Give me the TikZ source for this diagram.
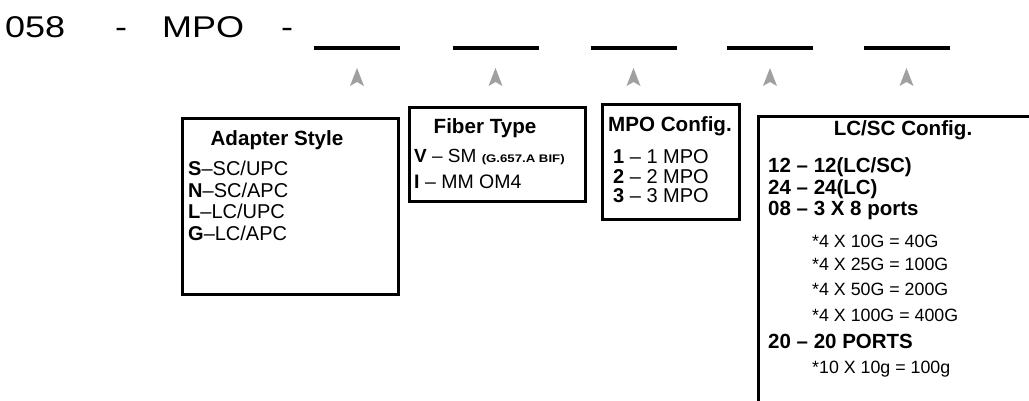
\documentclass[tikz,border=0pt]{standalone}
\usepackage{fontspec}
\setmainfont{Liberation Sans}
\usetikzlibrary{positioning}
\definecolor{tipgrey}{RGB}{160,160,160}

\begin{document}
\begin{tikzpicture}[x=1pt, y=-1pt,
  card/.style={draw, line width=3pt, anchor=north west, inner sep=0pt},
  cardtitle/.style={anchor=base, inner sep=0pt, font=\fontsize{20.6}{22}\selectfont\bfseries},
  entry/.style={anchor=base west, inner sep=0pt, font=\fontsize{20}{22}\selectfont},
  boldentry/.style={entry, font=\fontsize{20.5}{22}\selectfont\bfseries},
  subentry/.style={anchor=base west, inner sep=0pt, font=\fontsize{17.8}{19}\selectfont},
  codepart/.style={anchor=base west, inner sep=0pt, font=\fontsize{30}{32}\selectfont\addfontfeatures{FakeStretch=1.2}}]
  \useasboundingbox (0,0) rectangle (1029,400);

  % Part number prefix
  \node[codepart] (prefix) at (5,37.5) {058};
  \node[codepart] (dashone) at (115,37.5) {-};
  \node[codepart] (mpo) at (162,37.5) {MPO};
  \node[codepart] (dashtwo) at (281,37.5) {-};

  % Blanks with markers
  \foreach \n/\x in {1/357,2/495.5,3/633.5,4/770,5/906.5} {
    \draw[line width=4pt] (\x-43,48) -- (\x+43,48);
    \fill[tipgrey] (\x,68) -- (\x+7,86) -- (\x,82) -- (\x-7,86) -- cycle;
  }

  % Adapter style
  \node[card, minimum width=216, minimum height=176] (adapter) at (181,117) {};
  \node[cardtitle] (adaptertitle) at (277,145) {Adapter Style};
  \node[entry] (adapters) at (188,175) {\textbf{S}--SC/UPC};
  \node[entry] (adaptern) at (188,197) {\textbf{N}--SC/APC};
  \node[entry] (adapterl) at (188,218) {\textbf{L}--LC/UPC};
  \node[entry] (adapterg) at (188,240) {\textbf{G}--LC/APC};

  % Fiber type
  \node[card, minimum width=176, minimum height=94] (fiber) at (408,106) {};
  \node[cardtitle] (fibertitle) at (485,133) {Fiber Type};
  \node[entry, font=\fontsize{19}{21}\selectfont] (fiberv) at (414,162) {\textbf{V} -- SM {\fontsize{11}{12}\selectfont\bfseries\addfontfeatures{FakeStretch=1.2} (G.657.A BIF)}};
  \node[entry, font=\fontsize{19.5}{21}\selectfont] (fiberi) at (414,188) {\textbf{I} -- MM OM4};

  % MPO config
  \node[card, minimum width=137, minimum height=115] (mpoconf) at (601,103) {};
  \node[cardtitle] (mpotitle) at (670,131) {MPO Config.};
  \node[entry] (mpoone) at (613,163) {\textbf{1} -- 1 MPO};
  \node[entry] (mpotwo) at (613,183) {\textbf{2} -- 2 MPO};
  \node[entry] (mpothree) at (613,202) {\textbf{3} -- 3 MPO};

  % LC/SC config
  \node[card, minimum width=300, minimum height=310] (lcsc) at (757,115) {};
  \node[cardtitle] (lcsctitle) at (903,135) {LC/SC Config.};
  \node[boldentry] (lctwelve) at (768,172) {12 -- 12(LC/SC)};
  \node[boldentry] (lctwentyfour) at (768,194) {24 -- 24(LC)};
  \node[boldentry] (lceight) at (768,215) {08 -- 3 X 8 ports};
  \node[subentry] (lcforty) at (812,247) {*4 X 10G = 40G};
  \node[subentry] (lchundred) at (812,270) {*4 X 25G = 100G};
  \node[subentry] (lctwohundred) at (812,295) {*4 X 50G = 200G};
  \node[subentry] (lcfourhundred) at (812,321) {*4 X 100G = 400G};
  \node[boldentry] (lctwenty) at (768,348) {20 -- 20 PORTS};
  \node[subentry] (lctenports) at (812,373) {*10 X 10g = 100g};
\end{tikzpicture}
\end{document}
